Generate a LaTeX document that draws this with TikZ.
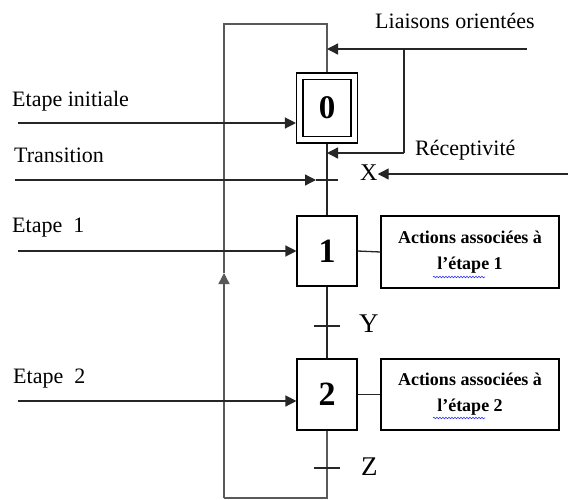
\documentclass[tikz,border=0pt]{standalone}
\usepackage{fontspec}
\setmainfont{Liberation Serif}
\usetikzlibrary{arrows.meta,decorations.pathmorphing}
\begin{document}
\begin{tikzpicture}[x=1pt,y=-1pt,
  line/.style={line width=1.3pt, draw=black!85},
  loopline/.style={line width=1.5pt, draw=black!65},
  arr/.style={line, -{Triangle[length=11pt,width=11pt]}},
  looparr/.style={loopline, -{Triangle[length=11pt,width=11pt]}},
  stepbox/.style={draw, line width=1.1pt, minimum width=60pt, minimum height=70pt, inner sep=0pt, font=\fontsize{34}{34}\selectfont\bfseries},
  actbox/.style={draw, line width=1.1pt, minimum width=178pt, minimum height=72pt, inner sep=0pt, align=center, font=\fontsize{18}{26}\selectfont\bfseries},
  lbl/.style={font=\fontsize{22}{26}\selectfont, inner sep=0pt, anchor=base west},
  trlbl/.style={font=\fontsize{27}{27}\selectfont, inner sep=0pt, anchor=base west},
  spell/.style={draw=blue!80, line width=0.6pt, decorate, decoration={snake, amplitude=0.8pt, segment length=3pt}}
]
\useasboundingbox (0,0) rectangle (568,499);

% steps
\node[stepbox, minimum width=61pt, minimum height=70pt] (s0) at (327,108) {};
\node[stepbox, minimum width=48pt, minimum height=57pt, font=\fontsize{33}{33}\selectfont\bfseries] (s0i) at (327,108) {0};
\node[stepbox] (s1) at (327,251) {1};
\node[stepbox, minimum height=71pt] (s2) at (327,394.5) {2};

% actions
\node[actbox] (a1) at (470,252) {Actions associées à\\l’étape 1};
\node[actbox, minimum height=71pt] (a2) at (470,394.5) {Actions associées à\\l’étape 2};
\draw[spell] (433,277) -- (485,277);
\draw[spell] (433,418) -- (485,418);

% labels
\node[lbl] (lo) at (375,28) {Liaisons orientées};
\node[lbl] (re) at (415,155) {Réceptivité};
\node[lbl] (ei) at (12,106) {Etape initiale};
\node[lbl] (tr) at (14,162) {Transition};
\node[lbl] (et1) at (12,232) {Etape~~1};
\node[lbl] (et2) at (13,383) {Etape~~2};
\node[font=\fontsize{24}{24}\selectfont, inner sep=0pt, anchor=base west] (X) at (360,180) {X};
\node[trlbl] (Y) at (359,332) {Y};
\node[trlbl] (Z) at (361,475) {Z};

% coordinates
\coordinate (lt) at (224,24);
\coordinate (lb) at (224,498);
\coordinate (lup) at (224,273);
\coordinate (mb) at (327,498);
\coordinate (mt) at (327,24);
\coordinate (lr) at (527,49);
\coordinate (lj) at (404,49);
\coordinate (lc) at (404,153);
\coordinate (t0) at (15,180);
\coordinate (ta) at (316,180);
\coordinate (tb) at (338,180);
\coordinate (y0) at (314,326);
\coordinate (y1) at (340,326);
\coordinate (z0) at (314,468);
\coordinate (z1) at (340,468);
\coordinate (xr) at (568,174);
\coordinate (e0) at (18,123);
\coordinate (e1) at (18,251);
\coordinate (e2) at (18,401);

% loop
\draw[loopline] (s2.south) -- (mb) -- (lb);
\draw[looparr] (lb) -- (lup);
\draw[loopline] (lup) -- (lt) -- (mt) -- (s0.north);

% main line
\draw[line] (s0.south) -- (s1.north);
\draw[line] (s1.south) -- (s2.north);
\draw[line] (s1.east) -- (a1.west);
\draw[line] (s2.east) -- (a2.west);

% liaisons orientees
\draw[arr] (lr) -- (lr -| s0.north);
\draw[line] (lj) -- (lc);
\draw[arr] (lc) -- (lc -| s0.south);

% transitions
\draw[arr] (t0) -- (ta);
\draw[line] (ta) -- (tb);
\draw[line] (y0) -- (y1);
\draw[line] (z0) -- (z1);
\draw[arr] (xr) -- (X.east |- xr);

% step entries
\draw[arr] (e0) -- (e0 -| s0.west);
\draw[arr] (e1) -- (s1.west);
\draw[arr] (e2) -- (e2 -| s2.west);
\end{tikzpicture}
\end{document}
